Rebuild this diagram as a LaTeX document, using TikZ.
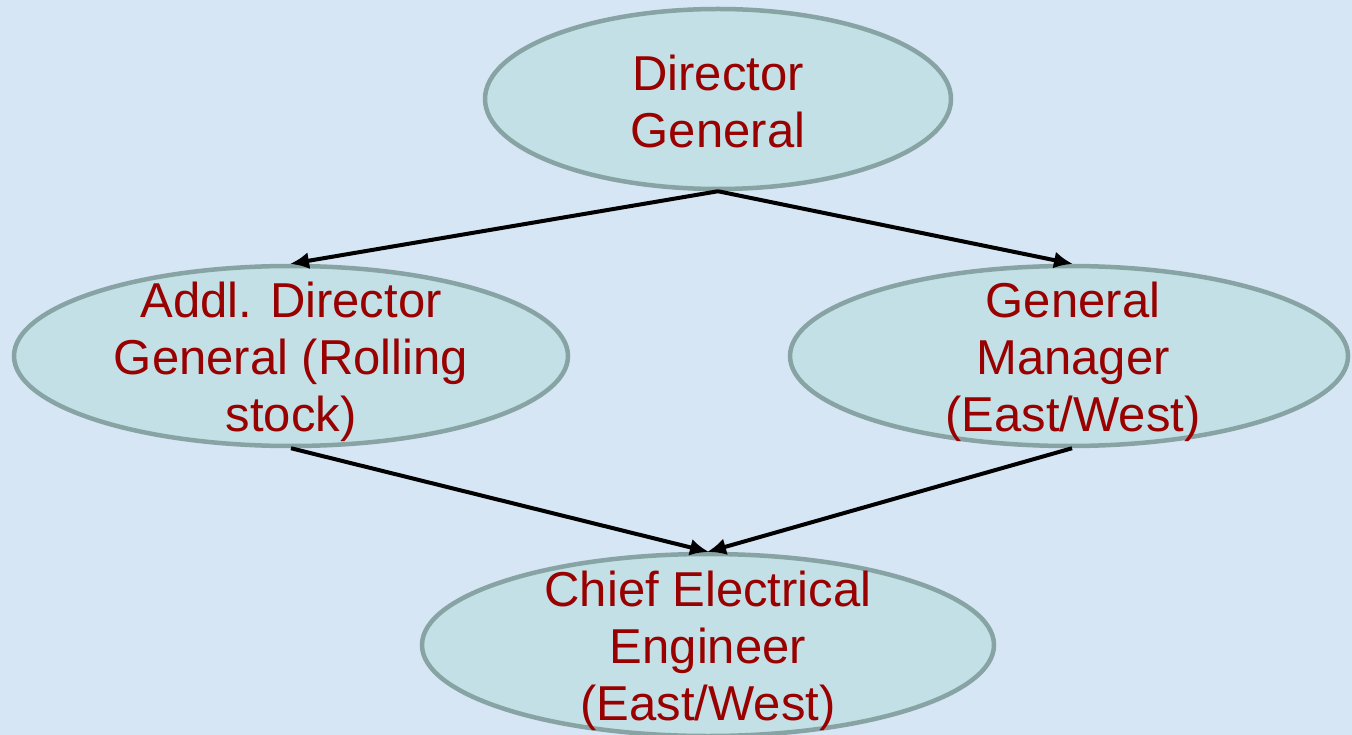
\documentclass[tikz,border=0pt]{standalone}
\usepackage{fontspec}
\setmainfont{Liberation Sans}
\usetikzlibrary{shapes.geometric,arrows.meta}
\definecolor{bgblue}{HTML}{D6E6F4}
\definecolor{ellfill}{HTML}{C2E0E5}
\definecolor{ellline}{HTML}{87A3A3}
\definecolor{txtred}{HTML}{990000}
\tikzset{
  orgnode/.style={ellipse, draw=ellline, fill=ellfill, line width=4.5pt, inner sep=0pt},
  orgtext/.style={inner sep=0pt, text=txtred, align=center, font=\fontsize{49}{57}\selectfont},
  link/.style={line width=4pt, draw=black, -{Latex[length=19pt,width=17pt]}, shorten >=-1pt}
}
\begin{document}
\begin{tikzpicture}[x=1pt,y=-1pt]
\fill[bgblue] (0,0) rectangle (1352,735);
\useasboundingbox (0,0) rectangle (1352,735);
\node[orgnode, minimum width=466pt, minimum height=180pt] (dg) at (718,99) {};
\node[orgnode, minimum width=554pt, minimum height=180pt] (adg) at (291,356) {};
\node[orgnode, minimum width=558pt, minimum height=180pt] (gm) at (1069,356) {};
\node[orgnode, minimum width=572pt, minimum height=182pt] (cee) at (708,645) {};
\node[orgtext] (dgt) at ([yshift=-2pt]dg.center) {Director\\General};
\node[orgtext] (adgt) at ([yshift=-6pt]adg.center) {Addl. Director\\General (Rolling\\stock)};
\node[orgtext] (gmt) at ([xshift=4pt,yshift=-6pt]gm.center) {General\\Manager\\(East/West)};
\node[orgtext] (ceet) at ([yshift=-6pt]cee.center) {Chief Electrical\\Engineer\\(East/West)};
\draw[link] (dg.south) -- (adg.north);
\draw[link] (dg.south) -- ([xshift=3pt]gm.north);
\draw[link] (adg.south) -- (cee.north);
\draw[link] ([xshift=3pt]gm.south) -- (cee.north);
\end{tikzpicture}
\end{document}
